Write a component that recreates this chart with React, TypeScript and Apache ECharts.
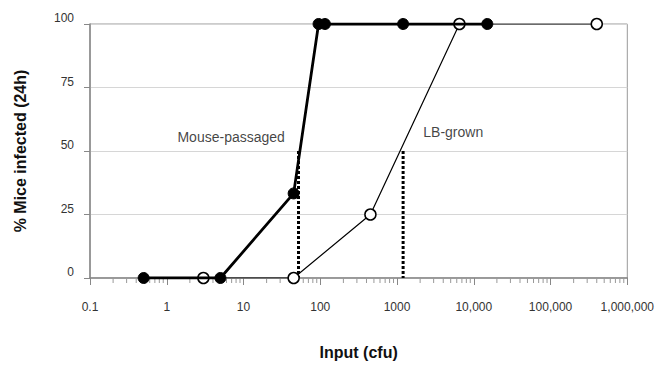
import React, { useEffect, useRef } from "react";
import * as echarts from "echarts";

const xTickLabels: Record<string, string> = {
  "0.1": "0.1",
  "1": "1",
  "10": "10",
  "100": "100",
  "1000": "1000",
  "10000": "10,000",
  "100000": "100,000",
  "1000000": "1,000,000",
};
const yTicks = [0, 25, 50, 75, 100];

// Mouse-passaged (filled circles)
const mouseInput = [0.5, 5, 45, 95, 115, 1200, 15000];
const mouseInfected = [0, 0, 33.3, 100, 100, 100, 100];

// LB-grown (open circles)
const lbInput = [3, 45, 450, 6500, 400000];
const lbInfected = [0, 0, 25, 100, 100];

// ID50 drop lines
const mouseId50 = 52;
const lbId50 = 1200;

const minorTickValues: number[] = [];
for (let k = -1; k <= 5; k++) {
  for (let m = 2; m <= 9; m++) minorTickValues.push(m * Math.pow(10, k));
}

export default function App() {
  const ref = useRef<HTMLDivElement>(null);
  useEffect(() => {
    if (!ref.current) return;
    const chart = echarts.init(ref.current, null, { renderer: "svg" });
    const font = "Liberation Sans, Arial, sans-serif";
    chart.setOption({
      animation: false,
      textStyle: { fontFamily: font },
      grid: {
        left: 90,
        right: 26,
        top: 24,
        bottom: 84,
        show: true,
        borderColor: "#999",
        borderWidth: 1,
      },
      xAxis: {
        type: "log",
        logBase: 10,
        min: 0.1,
        max: 1000000,
        name: "Input (cfu)",
        nameLocation: "middle",
        nameGap: 66,
        nameTextStyle: { fontSize: 16, fontWeight: "bold", color: "#111", fontFamily: font },
        axisLine: { show: true, lineStyle: { color: "#888", width: 1.5 } },
        axisTick: { show: true, inside: false, length: 7, lineStyle: { color: "#888" } },
        axisLabel: {
          margin: 23,
          fontSize: 12,
          color: "#333",
          fontFamily: font,
          formatter: (v: number) => {
            const key = String(Number(v.toPrecision(6)));
            return xTickLabels[key] ?? key;
          },
        },
        splitLine: { show: false },
      },
      yAxis: {
        type: "value",
        min: 0,
        max: 100,
        interval: 25,
        name: "% Mice infected (24h)",
        nameLocation: "middle",
        nameGap: 62,
        nameTextStyle: { fontSize: 16, fontWeight: "bold", color: "#111", fontFamily: font },
        axisLine: { show: true, lineStyle: { color: "#888", width: 1.5 } },
        axisTick: { show: true, inside: false, length: 6, lineStyle: { color: "#888" } },
        axisLabel: {
          margin: 16,
          fontSize: 12,
          color: "#333",
          fontFamily: font,
          verticalAlign: "bottom",
          formatter: (v: number) => (yTicks.includes(v) ? String(v) : ""),
        },
        splitLine: { show: true, lineStyle: { color: "#d6d6d6", width: 1 } },
      },
      series: [
        {
          type: "custom",
          silent: true,
          data: minorTickValues.map((v) => [v, 0]),
          renderItem: (params: any, api: any) => {
            const p = api.coord([api.value(0), 0]);
            return {
              type: "line",
              shape: { x1: p[0], y1: p[1], x2: p[0], y2: p[1] + 5 },
              style: { stroke: "#999", lineWidth: 1 },
            };
          },
          z: 1,
        },
        {
          type: "line",
          data: [
            [mouseId50, 50],
            [mouseId50, 0],
          ],
          showSymbol: false,
          symbol: "none",
          lineStyle: { color: "#000", width: 3, type: [3, 2] },
          z: 2,
        },
        {
          type: "line",
          data: [
            [lbId50, 50],
            [lbId50, 0],
          ],
          showSymbol: false,
          symbol: "none",
          lineStyle: { color: "#000", width: 3, type: [3, 2] },
          z: 2,
        },
        {
          name: "LB-grown",
          type: "line",
          data: lbInput.map((x, i) => [x, lbInfected[i]]),
          symbol: "circle",
          symbolSize: 11,
          lineStyle: { color: "#000", width: 1.2 },
          itemStyle: { color: "#fff", borderColor: "#000", borderWidth: 1.5 },
          z: 3,
        },
        {
          name: "Mouse-passaged",
          type: "line",
          data: mouseInput.map((x, i) => [x, mouseInfected[i]]),
          symbol: "circle",
          symbolSize: 11,
          lineStyle: { color: "#000", width: 2.8 },
          itemStyle: { color: "#000", borderColor: "#000", borderWidth: 1 },
          z: 4,
        },
        {
          type: "scatter",
          silent: true,
          symbolSize: 0,
          data: [
            { value: [6.9, 55.5], name: "Mouse-passaged" },
            { value: [5400, 57.4], name: "LB-grown" },
          ],
          label: {
            show: true,
            position: "inside",
            formatter: (p: any) => p.name,
            fontSize: 14,
            color: "#111",
            fontFamily: font,
          },
          z: 5,
        },
      ],
    });
    return () => chart.dispose();
  }, []);
  return <div ref={ref} style={{ width: 657, height: 365, position: "absolute", left: 0, top: 0, background: "#fff" }} />;
}
